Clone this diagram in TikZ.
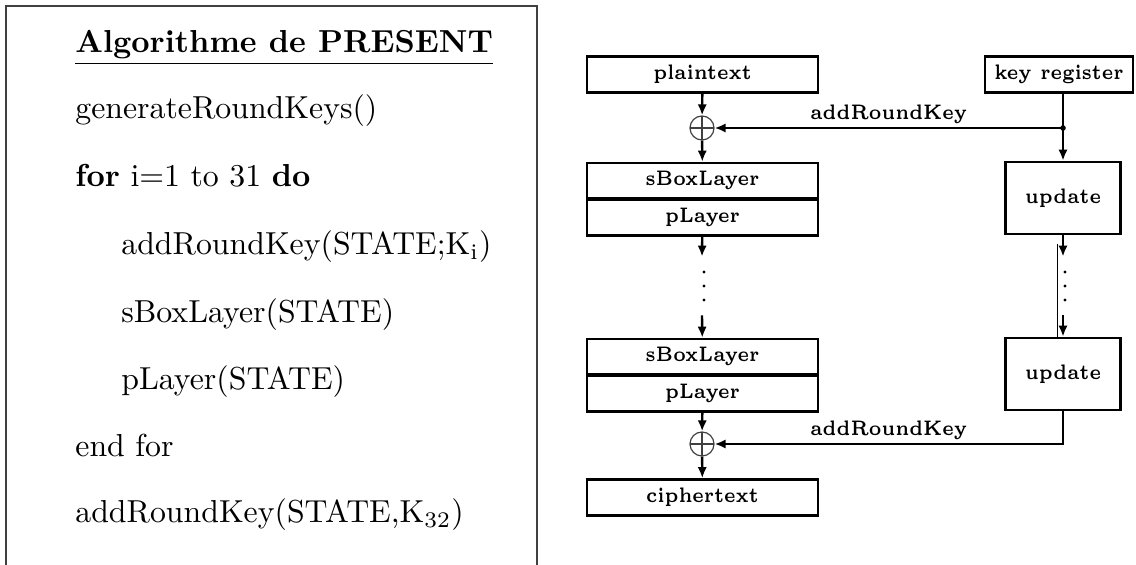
\documentclass[tikz,border=0pt]{standalone}
\usepackage{graphicx}
\usetikzlibrary{positioning,arrows.meta,calc}
\newcommand{\boxtxt}[1]{\scalebox{1.66}[2.1]{\fontsize{5}{6}\selectfont\bfseries #1}}
\newcommand{\algtxt}[1]{\scalebox{1.59}{#1}}
\tikzset{
  algline/.style={
    anchor=base west,
    inner sep=0pt},
  layer/.style={
    rectangle,
    draw, line width=1.3pt,
    minimum width=115.5pt,
    minimum height=18pt,
    inner sep=0pt},
  keybox/.style={
    layer,
    minimum width=57.5pt,
    minimum height=36pt},
  xor/.style={
    circle,
    draw=black!75, line width=0.6pt,
    minimum size=12pt,
    inner sep=0pt,
    path picture={
      \draw[line width=0.6pt] (path picture bounding box.west) -- (path picture bounding box.east);
      \draw[line width=1.2pt] (path picture bounding box.north) -- (path picture bounding box.south);}},
  line/.style={draw, line width=1.2pt, -{Latex[length=5.5pt,width=4.6pt]}},
  wire/.style={draw, line width=1.2pt},
  rk/.style={above, inner sep=1.5pt},
  gap/.style={minimum width=4pt, minimum height=29pt, inner sep=0pt},
}
\begin{document}
\begin{tikzpicture}[x=0.5pt,y=-0.5pt]
  \useasboundingbox (0,0) rectangle (1136,565);
  % algorithm box
  \draw[line width=0.8pt, black!75] (6,580) |- (537,6) -- (537,580);
  \node[algline] (title) at (75,53) {\algtxt{\underline{\textbf{Algorithme de PRESENT}}}};
  \node[algline] (gen) at (75,119) {\algtxt{generateRoundKeys()}};
  \node[algline] (loop) at (75,187) {\algtxt{\textbf{for} i=1 to 31 \textbf{do}}};
  \node[algline] (ark) at (121,255) {\algtxt{addRoundKey(STATE;K\textsubscript{i})}};
  \node[algline] (sbl) at (121,323) {\algtxt{sBoxLayer(STATE)}};
  \node[algline] (pl) at (121,390) {\algtxt{pLayer(STATE)}};
  \node[algline] (endfor) at (75,457) {\algtxt{end for}};
  \node[algline] (arklast) at (75,523) {\algtxt{addRoundKey(STATE,K\textsubscript{32})}};

  % data path
  \node[layer] (plain) at (702.5,74.5) {\boxtxt{plaintext}};
  \node[xor] (xor1) at (702,128) {};
  \node[layer, minimum height=17.5pt] (sbox1) at (702.5,180.5) {\boxtxt{sBoxLayer}};
  \node[layer, below=-0.4pt of sbox1] (play1) {\boxtxt{pLayer}};
  \node[gap] (gapL) at (702,286) {};
  \node[layer, minimum height=17.5pt] (sbox2) at (702.5,356.5) {\boxtxt{sBoxLayer}};
  \node[layer, below=-0.4pt of sbox2] (play2) {\boxtxt{pLayer}};
  \node[xor] (xor2) at (702,444) {};
  \node[layer] (cipher) at (702.5,497.5) {\boxtxt{ciphertext}};

  % key schedule
  \node[layer, minimum width=74pt] (key) at (1059,74.5) {\boxtxt{key register}};
  \node[keybox] (upd1) at (1063,198) {\boxtxt{update}};
  \node[gap] (gapR) at (1063,286) {};
  \node[keybox] (upd2) at (1063,374) {\boxtxt{update}};
  \coordinate (split) at (upd1.north |- xor1);

  \draw[line] (plain) -- (xor1);
  \draw[line] (xor1) -- (sbox1);
  \draw[line] (play1) -- (gapL.north);
  \draw[line] (gapL.south) -- (sbox2);
  \draw[line] (play2) -- (xor2);
  \draw[line] (xor2) -- (cipher);

  \draw[wire] (key.south -| split) -- (split);
  \fill (split) circle (1.4pt);
  \draw[line] (split) -- node[rk]{\boxtxt{addRoundKey}} (xor1);
  \draw[line] (split) -- (upd1);
  \draw[line] (upd1) -- (gapR.north);
  \draw[line] (gapR.south) -- (upd2);
  \draw[line width=0.5pt] ([xshift=-3pt,yshift=-4.5pt]upd1.south) -- ([xshift=-3pt]upd2.north);
  \draw[line] (upd2) |- node[rk, pos=0.75]{\boxtxt{addRoundKey}} (xor2);

  % dots in the gaps
  \foreach \g in {gapL,gapR}
    \foreach \d in {-14,0,14}
      \fill ($(\g)+(2,\d)$) circle (0.8pt);
\end{tikzpicture}
\end{document}
